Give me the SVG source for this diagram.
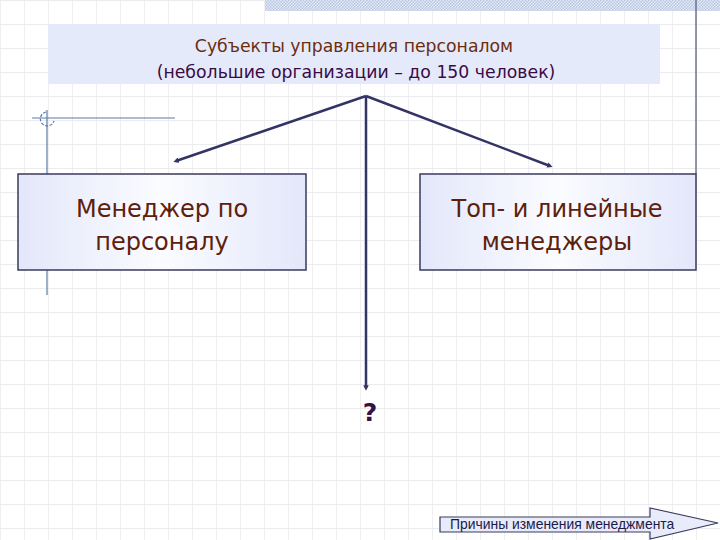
<svg xmlns="http://www.w3.org/2000/svg" width="720" height="540" viewBox="0 0 720 540">
  <defs>
    <pattern id="grid" x="1" y="1" width="24" height="24" patternUnits="userSpaceOnUse">
      <path d="M24 0V24M0 24H24" fill="none" stroke="#e6e6ec" stroke-width="1.3"/>
    </pattern>
    <pattern id="hatch" width="3" height="3" patternUnits="userSpaceOnUse">
      <rect width="3" height="3" fill="#e4eaf6"/>
      <rect width="1.5" height="1.5" fill="#b8c6e2"/>
      <rect x="1.5" y="1.5" width="1.5" height="1.5" fill="#b8c6e2"/>
    </pattern>
    <linearGradient id="boxfill" x1="0" y1="0" x2="1" y2="0">
      <stop offset="0" stop-color="#e3e7fa"/>
      <stop offset="0.5" stop-color="#fbfcff"/>
      <stop offset="1" stop-color="#e3e7fa"/>
    </linearGradient>
    <marker id="dot" viewBox="0 0 6 6" refX="3" refY="3" markerWidth="2.2" markerHeight="2.2" orient="auto">
      <path d="M0 0L6 3L0 6z" fill="#333366"/>
    </marker>
    <style>
      .conn { stroke: #333366; stroke-width: 2.5; fill: none; marker-end: url(#dot); }
      .deco { stroke: #5b7aa8; stroke-width: 1.2; fill: none; }
      .box { fill: url(#boxfill); stroke: #3a3a5c; stroke-width: 1.5; }
      .boxtext { font-family: "DejaVu Sans", Verdana, sans-serif; font-size: 24px; fill: #5e200a; text-anchor: middle; }
      .title { font-family: "DejaVu Sans", Verdana, sans-serif; font-size: 17.3px; text-anchor: middle; }
    </style>
  </defs>

  <rect width="720" height="540" fill="#ffffff"/>
  <rect width="720" height="540" fill="url(#grid)"/>
  <rect x="265" y="0" width="455" height="11" fill="url(#hatch)"/>
  <line x1="696" y1="0" x2="696" y2="174" stroke="#5a6080" stroke-width="1.3"/>

  <g id="decoration">
    <line class="deco" x1="32" y1="118" x2="175" y2="118"/>
    <line class="deco" x1="47" y1="110" x2="47" y2="295"/>
    <path class="deco" d="M46 112 A7 7 0 1 0 54 121" stroke-dasharray="3 1.5"/>
  </g>

  <g id="title">
    <rect x="48" y="24" width="612" height="60" fill="#e5eafb"/>
    <text class="title" x="354" y="52" fill="#6b2e10">Субъекты управления персоналом</text>
    <text class="title" x="356" y="78" fill="#3a0a44">(небольшие организации – до 150 человек)</text>
  </g>

  <g id="connectors">
    <line class="conn" x1="366" y1="96" x2="176" y2="161"/>
    <line class="conn" x1="366" y1="96" x2="550" y2="166"/>
    <line class="conn" x1="366" y1="96" x2="366" y2="388"/>
  </g>

  <g id="node-hr">
    <rect class="box" x="18" y="174" width="288" height="96"/>
    <text class="boxtext" x="162" y="217">Менеджер по</text>
    <text class="boxtext" x="162" y="250">персоналу</text>
  </g>

  <g id="node-managers">
    <rect class="box" x="420" y="174" width="276" height="96"/>
    <text class="boxtext" x="557" y="217">Топ- и линейные</text>
    <text class="boxtext" x="557" y="250">менеджеры</text>
  </g>

  <g id="node-question">
    <text x="370" y="421" font-family="DejaVu Sans, Verdana, sans-serif" font-size="25" font-weight="bold" fill="#3a1040" text-anchor="middle">?</text>
  </g>

  <g id="button">
    <path d="M440 517H650V508L718 523L650 539V532H440Z" fill="#e8ecfa" stroke="#3a3a5c" stroke-width="1.2"/>
    <text x="450" y="529" font-family="Liberation Sans, Arial, sans-serif" font-size="13.9" fill="#1a1a4a">Причины изменения менеджмента</text>
  </g>
</svg>
